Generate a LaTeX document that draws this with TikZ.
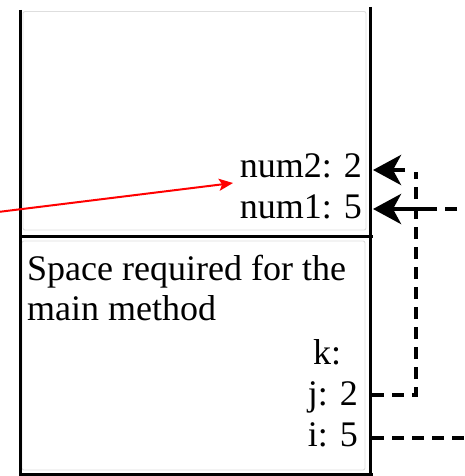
\documentclass[tikz,border=0pt]{standalone}
\usepackage{fontspec}
\setmainfont{Liberation Serif}
\usetikzlibrary{arrows.meta}
\begin{document}
\begin{tikzpicture}[x=1pt,y=-1pt,
  lbl/.style={inner sep=0pt,font=\fontsize{36}{40}\selectfont},
  stackwall/.style={line width=3pt},
  faintbox/.style={draw=black!13,line width=0.9pt,rounded corners=2pt},
  dashlink/.style={line width=3.5pt,dash pattern=on 12pt off 8pt},
  bigarrow/.style={line width=4.5pt,arrows={-Stealth[length=28pt,width=30pt,inset=8pt]}},
  redptr/.style={red,line width=2pt,arrows={-Stealth[length=14pt,width=12pt,inset=3pt]}}]
\useasboundingbox (0,0) rectangle (465,476);
\clip (0,0) rectangle (465,476);
% faint inner frames
\draw[faintbox] (23,11.5) rectangle (366,230);
\draw[faintbox] (22,241) rectangle (365,470);
% stack walls
\draw[stackwall] (20,10) -- (20,476);
\draw[stackwall] (370.5,7) -- (370.5,476);
\draw[stackwall] (20,236.5) -- (373,236.5);
\draw[stackwall] (20,474) -- (373,474);
% texts
\node[lbl,anchor=base east] (num2) at (362,177) {num2: 2};
\node[lbl,anchor=base east] (num1) at (362,218) {num1: 5};
\node[lbl,anchor=base west] (space) at (27,280) {Space required for the};
\node[lbl,anchor=base west] (mainm) at (27,320) {main method};
\node[lbl,anchor=base west] (k) at (313,364) {k:};
\node[lbl,anchor=base east] (j) at (358,405) {j: 2};
\node[lbl,anchor=base east] (i) at (358,446) {i: 5};
% connector points
\coordinate (t2) at (373,170);
\coordinate (t1) at (373,209);
\coordinate (b2) at (405,170);
\coordinate (b1) at (405,209);
\coordinate (jr) at (372,395);
\coordinate (ir) at (372,438);
\coordinate (rs) at (-2,212);
\coordinate (re) at (233,183);
% j -> num2
\draw[dashlink] (jr) -- (416,395) -- (416,172);
\draw[bigarrow] (b2) -- (t2);
% i -> num1 (runs off the page)
\draw[dashlink] (ir) -- (500,438) -- (500,209) -- (b1);
\draw[dashlink] (416,209) -- (428,209);
\draw[bigarrow] (b1) -- (t1);
% red pointer
\draw[redptr] (rs) -- (re);
\end{tikzpicture}
\end{document}
